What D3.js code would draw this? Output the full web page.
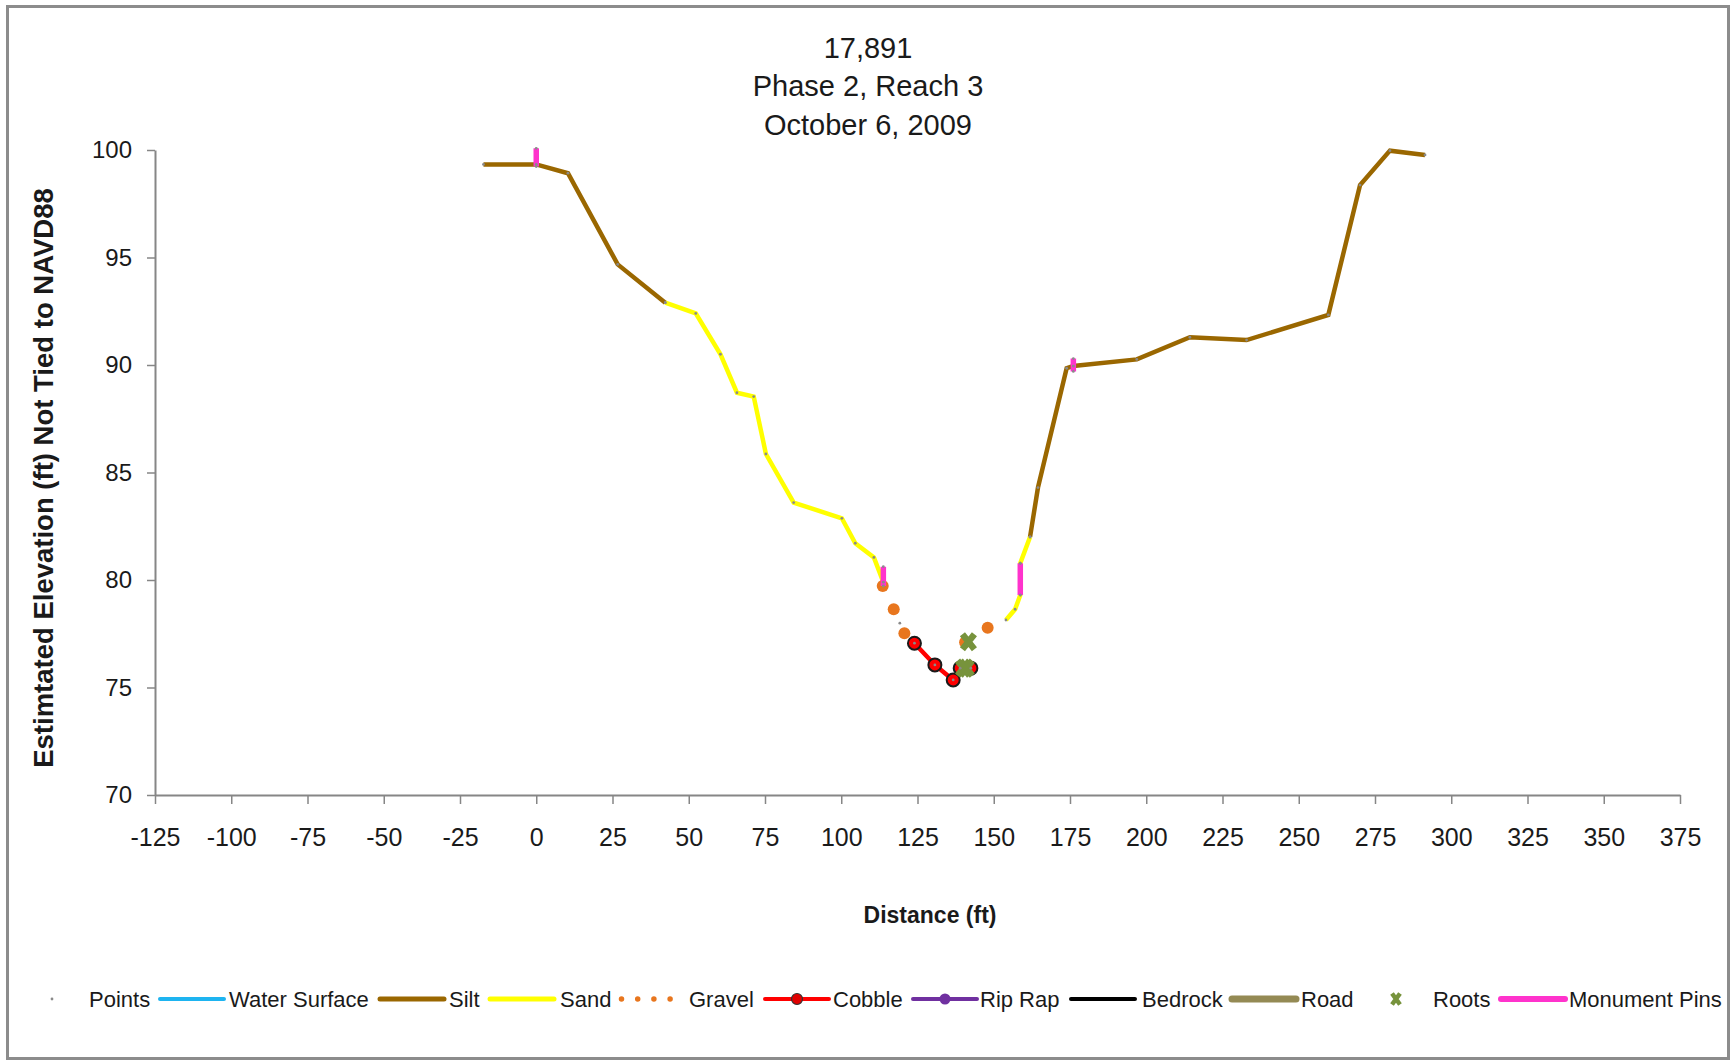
<!DOCTYPE html>
<html>
<head>
<meta charset="utf-8">
<script src="https://cdn.jsdelivr.net/npm/d3@7"></script>
<style>
  body { margin: 0; background: #fff; }
  text { font-family: "Liberation Sans", Arial, sans-serif; fill: #1a1a1a; }
</style>
</head>
<body>
<div id="chart"></div>
<script>
"use strict";

// == DATA (distance ft, elevation ft) ==
var titleLines = ["17,891", "Phase 2, Reach 3", "October 6, 2009"];
var xTicks = [-125, -100, -75, -50, -25, 0, 25, 50, 75, 100, 125, 150, 175, 200, 225, 250, 275, 300, 325, 350, 375];
var yTicks = [70, 75, 80, 85, 90, 95, 100];

// null marks a gap in a series
var silt = [[-17.3, 99.33], [0, 99.33], [10.4, 98.92], [26.7, 94.68], [42.3, 92.9], null,
            [161.9, 82.0], [164.5, 84.3], [173.9, 89.85], [176.1, 89.95], [196.9, 90.26],
            [214.3, 91.29], [232.9, 91.16], [259.7, 92.33], [270.1, 98.37], [279.9, 99.97], [291.4, 99.77]];
var sand = [[42.3, 92.9], [52.3, 92.4], [60.4, 90.5], [65.8, 88.71], [71.3, 88.53], [75.3, 85.86],
            [84.4, 83.6], [100.2, 82.87], [104.6, 81.71], [110.7, 81.05], [113.8, 79.9], null,
            [154.0, 78.14], [157.0, 78.64], [158.7, 79.3], [158.7, 80.78], [161.9, 82.0]];
var gravel = [[113.6, 79.72], [117.2, 78.64], [120.7, 77.52], [140.6, 77.1], [148.0, 77.78]];
var cobble = [[124.0, 77.06], [130.7, 76.05], [136.7, 75.35], [139.0, 75.9], [142.5, 75.9]];
var roots = [[141.7, 77.13], [140.1, 75.9], [141.0, 75.9]];
var pins = [[0, 100.08], [0, 99.23], null, [113.8, 80.62], [113.8, 79.72], null,
            [158.7, 80.78], [158.7, 79.3], null, [176.1, 90.3], [176.1, 89.7]];
var extraPoints = [[119.2, 77.99]];

var legendNames = ["Points", "Water Surface", "Silt", "Sand", "Gravel", "Cobble", "Rip Rap", "Bedrock", "Road", "Roots", "Monument Pins"];

// == BOILERPLATE ==
var W = 1732, H = 1062;
var svg = d3.select("#chart").append("svg")
  .attr("width", W).attr("height", H);

svg.append("rect")
  .attr("x", 7.5).attr("y", 6.5).attr("width", 1721).attr("height", 1052)
  .attr("fill", "#fff").attr("stroke", "#8c8c8c").attr("stroke-width", 3);

var x = d3.scaleLinear().domain([-125, 375]).range([155, 1680]);
var y = d3.scaleLinear().domain([70, 100]).range([795, 150]);

// == TITLE ==
svg.selectAll(".title").data(titleLines).enter().append("text")
  .attr("class", "title")
  .attr("x", 868)
  .attr("y", function (d, i) { return 57.5 + i * 38.7; })
  .attr("text-anchor", "middle")
  .style("font-size", "29px")
  .text(function (d) { return d; });

// == AXES ==
var plain = function (d) { return String(d); };
var xAxis = svg.append("g")
  .attr("transform", "translate(0,795)")
  .call(d3.axisBottom(x).tickValues(xTicks).tickFormat(plain).tickSize(9).tickSizeOuter(0).tickPadding(24));
var yAxis = svg.append("g")
  .attr("transform", "translate(155,0)")
  .call(d3.axisLeft(y).tickValues(yTicks).tickFormat(plain).tickSize(8).tickSizeOuter(0).tickPadding(15));

[xAxis, yAxis].forEach(function (g) {
  g.select(".domain").attr("stroke", "#868686").attr("stroke-width", 2);
  g.selectAll(".tick line").attr("stroke", "#868686").attr("stroke-width", 1.5);
  g.selectAll(".tick text").attr("fill", "#1a1a1a")
    .style("font-family", '"Liberation Sans", Arial, sans-serif');
});
xAxis.selectAll(".tick text").style("font-size", "25px");
yAxis.selectAll(".tick text").style("font-size", "24px");

svg.append("text")
  .attr("x", 930).attr("y", 923)
  .attr("text-anchor", "middle")
  .style("font-size", "23px").style("font-weight", "bold")
  .text("Distance (ft)");

svg.append("text")
  .attr("transform", "translate(53,478) rotate(-90)")
  .attr("text-anchor", "middle")
  .style("font-size", "27.5px").style("font-weight", "bold")
  .text("Estimtated Elevation (ft) Not Tied to NAVD88");

// == SHAPES ==
var line = d3.line()
  .defined(function (d) { return d !== null; })
  .x(function (d) { return x(d[0]); })
  .y(function (d) { return y(d[1]); });

svg.append("path").datum(silt)
  .attr("d", line).attr("fill", "none")
  .attr("stroke", "#9a6700").attr("stroke-width", 4.5);

svg.append("path").datum(sand)
  .attr("d", line).attr("fill", "none")
  .attr("stroke", "#ffff00").attr("stroke-width", 4.5);

svg.selectAll(".gravel").data(gravel).enter().append("circle")
  .attr("class", "gravel")
  .attr("cx", function (d) { return x(d[0]); })
  .attr("cy", function (d) { return y(d[1]); })
  .attr("r", 6)
  .attr("fill", "#e8761e");

svg.append("path").datum(cobble)
  .attr("d", line).attr("fill", "none")
  .attr("stroke", "#ff0000").attr("stroke-width", 4.5);
svg.selectAll(".cobble").data(cobble).enter().append("circle")
  .attr("class", "cobble")
  .attr("cx", function (d) { return x(d[0]); })
  .attr("cy", function (d) { return y(d[1]); })
  .attr("r", 6.5)
  .attr("fill", "#ff0000").attr("stroke", "#1a1a1a").attr("stroke-width", 2);

function xMark(sel, w, h, sw) {
  sel.append("path")
    .attr("d", "M" + (-w) + "," + (-h) + "L" + w + "," + h + "M" + w + "," + (-h) + "L" + (-w) + "," + h)
    .attr("stroke", "#77933c").attr("stroke-width", sw).attr("fill", "none");
}
svg.selectAll(".roots").data(roots).enter().append("g")
  .attr("class", "roots")
  .attr("transform", function (d) { return "translate(" + x(d[0]) + "," + y(d[1]) + ")"; })
  .call(xMark, 6, 7.5, 6.5);

svg.append("path").datum(pins)
  .attr("d", line).attr("fill", "none")
  .attr("stroke", "#ff33cc").attr("stroke-width", 5.5);

// survey points (every vertex)
var allPoints = silt.concat(sand, cobble, pins, extraPoints).filter(function (d) { return d !== null; });
svg.selectAll(".pt").data(allPoints).enter().append("circle")
  .attr("class", "pt")
  .attr("cx", function (d) { return x(d[0]); })
  .attr("cy", function (d) { return y(d[1]); })
  .attr("r", 1.4)
  .attr("fill", "#8a8a8a");

// == LEGEND ==
var legSym = [52, 192, 412, 522, 646, 797, 945, 1103, 1264, 1396, 1533];
var legText = [89, 229, 449, 560, 689, 833, 980, 1142, 1301, 1433, 1569];
var legY = 999;

legendNames.forEach(function (name, i) {
  var g = svg.append("g").attr("transform", "translate(" + legSym[i] + "," + legY + ")");
  var seg = function (color, w) {
    g.append("line").attr("x1", -32).attr("x2", 32)
      .attr("stroke", color).attr("stroke-width", w).attr("stroke-linecap", "round");
  };
  if (name === "Points") g.append("circle").attr("r", 1.4).attr("fill", "#8a8a8a");
  if (name === "Water Surface") seg("#1eb4f0", 4);
  if (name === "Silt") seg("#9a6700", 5);
  if (name === "Sand") seg("#ffff00", 5);
  if (name === "Gravel") {
    g.append("line").attr("x1", -24.5).attr("x2", 25)
      .attr("stroke", "#e8761e").attr("stroke-width", 5.5)
      .attr("stroke-linecap", "round").attr("stroke-dasharray", "0,16.2");
  }
  if (name === "Cobble") {
    seg("#ff0000", 4);
    g.append("circle").attr("r", 5.5).attr("fill", "#e00000").attr("stroke", "#333").attr("stroke-width", 1.2);
  }
  if (name === "Rip Rap") {
    seg("#7030a0", 4);
    g.append("circle").attr("r", 5.5).attr("fill", "#7030a0");
  }
  if (name === "Bedrock") seg("#000000", 4);
  if (name === "Road") seg("#948a54", 7);
  if (name === "Roots") xMark(g, 4, 5.5, 4.5);
  if (name === "Monument Pins") seg("#ff33cc", 6);

  svg.append("text")
    .attr("x", legText[i]).attr("y", legY + 8)
    .style("font-size", "22px")
    .text(name);
});
</script>
</body>
</html>
